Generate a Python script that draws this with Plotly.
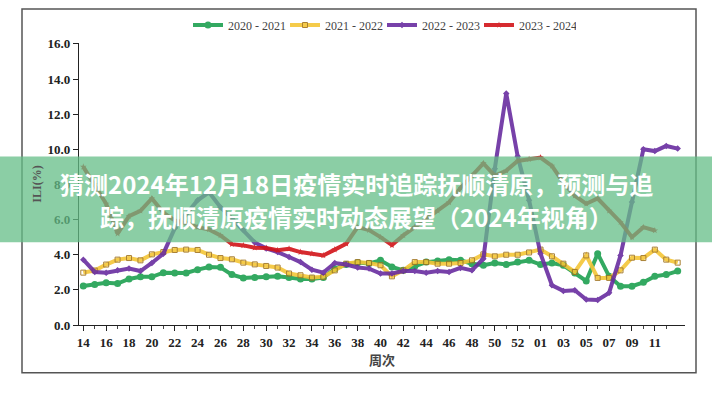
import plotly.graph_objects as go

weeks = [str(w) for w in range(14, 54)] + ["%02d" % w for w in range(1, 14)]
idx = list(range(len(weeks)))

s2020 = [2.22, 2.30, 2.40, 2.36, 2.62, 2.74, 2.74, 2.98, 2.96, 2.96,
         3.15, 3.30, 3.28, 2.87, 2.68, 2.70, 2.74, 2.77, 2.70, 2.62,
         2.62, 2.70, 3.20, 3.45, 3.55, 3.50, 3.68, 3.30, 3.11, 3.34,
         3.58, 3.64, 3.72, 3.68, 3.49, 3.40, 3.53, 3.44, 3.58, 3.68,
         3.44, 3.53, 3.40, 2.96, 2.51, 4.06, 2.77, 2.21, 2.21, 2.43,
         2.77, 2.87, 3.07]
s2021 = [2.98, 3.10, 3.44, 3.72, 3.81, 3.68, 4.02, 4.15, 4.27, 4.29,
         4.27, 4.00, 3.81, 3.74, 3.55, 3.45, 3.36, 3.27, 2.93, 2.83,
         2.70, 2.74, 3.11, 3.49, 3.58, 3.53, 3.40, 2.77, 3.11, 3.58,
         3.58, 3.49, 3.49, 3.53, 3.68, 4.02, 3.91, 4.00, 4.00, 4.13,
         4.29, 3.91, 3.49, 3.02, 3.96, 2.68, 2.68, 3.11, 3.83, 3.81,
         4.29, 3.72, 3.55]
s2022 = [3.72, 3.02, 2.98, 3.11, 3.21, 3.07, 3.53, 4.06, 5.50, 6.30,
         7.10, 7.55, 6.70, 6.05, 5.40, 4.70, 4.36, 4.15, 3.87, 3.58,
         3.15, 2.98, 3.53, 3.44, 3.27, 3.21, 2.93, 2.93, 3.07, 3.07,
         2.98, 3.07, 3.02, 3.25, 3.11, 3.77, 8.90, 13.18, 9.60, 7.10,
         4.06, 2.26, 1.94, 1.98, 1.45, 1.42, 1.83, 3.96, 7.00, 10.00,
         9.90, 10.19, 10.04]
s2023 = [9.00, 8.00, 6.90, 5.20, 6.20, 6.50, 7.20, 6.40, 5.95, 5.80,
         5.57, 5.44, 5.10, 4.60, 4.53, 4.40, 4.38, 4.25, 4.34, 4.15,
         4.06, 3.96, 4.29, 4.63, 5.57, 5.40, 5.00, 4.55, 5.10, 5.57,
         6.04, 6.50, 6.98, 7.80, 8.50, 9.20, 8.50, 8.78, 9.34, 9.44,
         9.53, 9.06, 8.10, 7.36, 6.90, 7.20, 6.50, 5.85, 5.00, 5.57,
         5.38, None, None]

names = ["2020 - 2021", "2021 - 2022", "2022 - 2023", "2023 - 2024"]
yticks = [0, 2, 4, 6, 8, 10, 12, 14, 16]
title_lines = ["猜测2024年12月18日疫情实时追踪抚顺清原，预测与追",
               "踪，抚顺清原疫情实时动态展望（2024年视角）"]

fig = go.Figure()
fig.add_trace(go.Scatter(x=idx, y=s2020, name=names[0], mode="lines+markers",
                         line=dict(color="rgb(30,160,80)", width=4),
                         marker=dict(symbol="circle", size=7, color="rgb(30,160,80)"),
                         opacity=0.9))
fig.add_trace(go.Scatter(x=idx, y=s2021, name=names[1], mode="lines+markers",
                         line=dict(color="rgb(245,198,55)", width=4),
                         marker=dict(symbol="square-open", size=5, color="rgb(160,115,30)",
                                     line=dict(width=1)),
                         opacity=0.9))
fig.add_trace(go.Scatter(x=idx, y=s2022, name=names[2], mode="lines+markers",
                         line=dict(color="rgb(105,45,160)", width=4),
                         marker=dict(symbol="diamond", size=5, color="rgb(105,45,160)"),
                         opacity=0.9))
fig.add_trace(go.Scatter(x=idx, y=s2023, name=names[3], mode="lines+markers",
                         line=dict(color="rgb(210,20,25)", width=4),
                         marker=dict(symbol="star", size=5, color="rgb(210,20,25)"),
                         opacity=0.9))

L, R, T, B = 79, 685, 42, 325
W, H = 712, 400
pw, ph = R - L, B - T

def px(v):
    return (v - L) / pw

def py(v):
    return (B - v) / ph

tickfont = dict(family="Liberation Serif", size=13, color="#222")

fig.update_layout(
    width=W, height=H,
    margin=dict(l=L, r=W - R, t=T, b=H - B),
    paper_bgcolor="white", plot_bgcolor="white",
    font=dict(family="Liberation Serif", size=12, color="#333"),
    showlegend=True,
    legend=dict(orientation="h", x=px(188), y=py(25), xanchor="left", yanchor="middle",
                font=dict(family="Liberation Serif", size=12, color="#444"),
                bgcolor="rgba(0,0,0,0)", entrywidth=52, entrywidthmode="pixels"),
    xaxis=dict(range=[-0.376, 52.64], tickmode="array",
               tickvals=idx[0:51:2], ticktext=["<b>%s</b>" % w for w in weeks[0:51:2]],
               showgrid=False, zeroline=False, showline=True, linecolor="#222", linewidth=1.2,
               ticks="outside", ticklen=5, tickcolor="#222",
               minor=dict(tickvals=idx[1:53:2], ticks="outside", ticklen=3, tickcolor="#444"),
               tickfont=tickfont,
               title=dict(text="<b>周次</b>", font=dict(family="Noto Sans CJK SC", size=13, color="#444"),
                          standoff=7)),
    yaxis=dict(range=[0, 16.05], tickmode="array", tickvals=yticks,
               ticktext=["<b>%.1f</b>" % v for v in yticks],
               showgrid=False, zeroline=False, showline=True, linecolor="#222", linewidth=1.2,
               ticks="outside", ticklen=5, tickcolor="#222",
               tickfont=tickfont,
               title=dict(text="<b>ILI(%)</b>", font=dict(family="Liberation Serif", size=12, color="#555"),
                          standoff=3)),
)

# outer frame
fig.add_shape(type="rect", xref="paper", yref="paper",
              x0=px(22), x1=px(696), y0=py(373), y1=py(8),
              line=dict(color="#555", width=1.5), fillcolor="rgba(0,0,0,0)", layer="above")
# green banner
fig.add_shape(type="rect", xref="paper", yref="paper",
              x0=px(0), x1=px(W), y0=py(242), y1=py(156),
              line=dict(width=0), fillcolor="rgba(100,190,135,0.75)", layer="above")
for line, yc in zip(title_lines, [183, 216]):
    fig.add_annotation(text="<b>%s</b>" % line, xref="paper", yref="paper",
                       x=px(356), y=py(yc), xanchor="center", yanchor="middle",
                       showarrow=False,
                       font=dict(family="Noto Sans CJK SC", size=24, color="white"))

fig.write_html("out.html")
